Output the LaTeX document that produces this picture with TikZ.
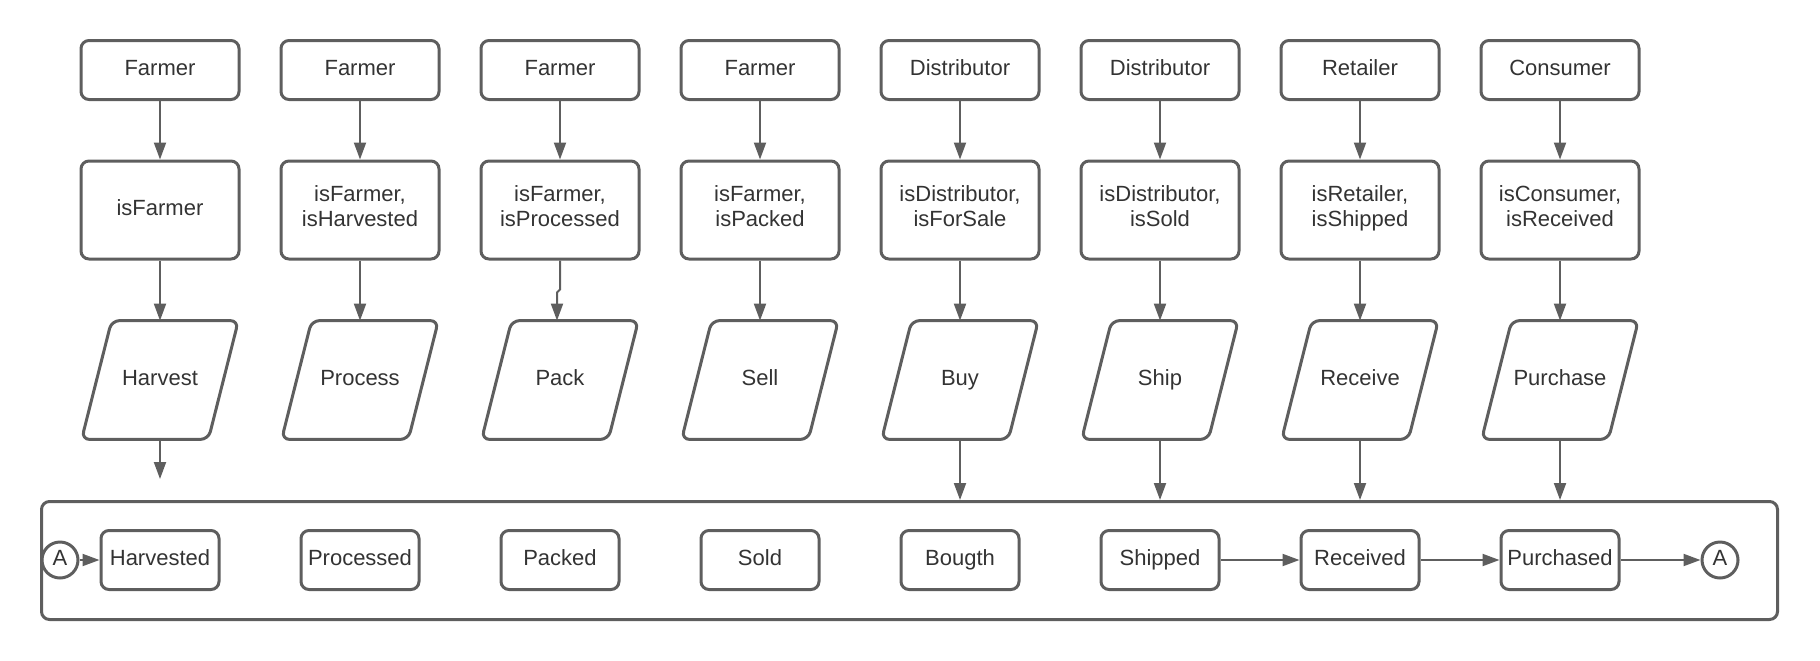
\documentclass[tikz,border=0pt]{standalone}
\usepackage{fontspec}
\setmainfont{Liberation Sans}
\usetikzlibrary{arrows.meta}
\definecolor{ln}{HTML}{5E5E5E}
\definecolor{tx}{HTML}{333333}
\begin{document}
\begin{tikzpicture}[x=0.5pt,y=-0.5pt,
  every node/.style={text=tx, font=\fontsize{11}{12.8}\selectfont, align=center, inner sep=0pt},
  txt/.style={execute at begin node=\strut, execute at end node=\strut},
  topbox/.style={txt, draw=ln, line width=1.5pt, rounded corners=4pt, minimum width=79pt, minimum height=29.5pt},
  midbox/.style={topbox, minimum height=49pt},
  pbox/.style={txt, minimum width=78pt, minimum height=59pt},
  pline/.style={draw=ln, line width=1.5pt, rounded corners=4pt},
  statebox/.style={topbox, minimum width=59pt},
  conn/.style={txt, draw=ln, line width=1.5pt, circle, minimum size=18pt},
  arr/.style={draw=ln, line width=1pt, -{Triangle[length=8.5pt,width=6pt]}},
  frame/.style={draw=ln, line width=1.5pt, rounded corners=4pt, minimum width=868pt, minimum height=59pt}
]
\useasboundingbox (0,0) rectangle (1820,660);

% container
\node[frame] (cont) at (909.5,560.5) {};

% top row
\node[topbox] (t1) at (160,70) {Farmer};
\node[topbox] (t2) at (360,70) {Farmer};
\node[topbox] (t3) at (560,70) {Farmer};
\node[topbox] (t4) at (760,70) {Farmer};
\node[topbox] (t5) at (960,70) {Distributor};
\node[topbox] (t6) at (1160,70) {Distributor};
\node[topbox] (t7) at (1360,70) {Retailer};
\node[topbox] (t8) at (1560,70) {Consumer};

% middle row
\node[midbox] (m1) at (160,210) {isFarmer};
\node[midbox] (m2) at (360,210) {isFarmer,\\isHarvested};
\node[midbox] (m3) at (560,210) {isFarmer,\\isProcessed};
\node[midbox] (m4) at (760,210) {isFarmer,\\isPacked};
\node[midbox] (m5) at (960,210) {isDistributor,\\isForSale};
\node[midbox] (m6) at (1160,210) {isDistributor,\\isSold};
\node[midbox] (m7) at (1360,210) {isRetailer,\\isShipped};
\node[midbox] (m8) at (1560,210) {isConsumer,\\isReceived};

% parallelograms
\node[pbox] (p1) at (160,380) {Harvest};
\node[pbox] (p2) at (360,380) {Process};
\node[pbox] (p3) at (560,380) {Pack};
\node[pbox] (p4) at (760,380) {Sell};
\node[pbox] (p5) at (960,380) {Buy};
\node[pbox] (p6) at (1160,380) {Ship};
\node[pbox] (p7) at (1360,380) {Receive};
\node[pbox] (p8) at (1560,380) {Purchase};
\foreach \n in {p1,p2,p3,p4,p5,p6,p7,p8}{
  \draw[pline] ([xshift=15pt]\n.north west) -- (\n.north east) -- ([xshift=-15pt]\n.south east) -- (\n.south west) -- cycle;
}

% state boxes
\node[statebox] (s1) at (160,560) {Harvested};
\node[statebox] (s2) at (360,560) {Processed};
\node[statebox] (s3) at (560,560) {Packed};
\node[statebox] (s4) at (760,560) {Sold};
\node[statebox] (s5) at (960,560) {Bougth};
\node[statebox] (s6) at (1160,560) {Shipped};
\node[statebox] (s7) at (1360,560) {Received};
\node[statebox] (s8) at (1560,560) {Purchased};

% connectors A
\node[conn] (a1) at (60,560) {A};
\node[conn] (a2) at (1720,560) {A};

% arrows top -> mid
\foreach \i in {1,...,8}{
  \draw[arr] (t\i.south) -- (m\i.north);
}
% arrows mid -> parallelogram
\foreach \i in {1,2,4,5,6,7,8}{
  \draw[arr] (m\i.south) -- (p\i.north);
}
\draw[arr] (m3.south) -- ++(0,29) -- ++(-3,3) -- ([xshift=-1.5pt]p3.north);

% parallelogram -> container
\coordinate (e1) at (160,479);
\draw[arr] (p1.south) -- (e1);
\foreach \i in {5,6,7,8}{
  \draw[arr] (p\i.south) -- (p\i.south |- cont.north);
}

% bottom chain
\draw[arr] (a1) -- (s1);
\draw[arr] (s6) -- (s7);
\draw[arr] (s7) -- (s8);
\draw[arr] (s8) -- (a2);
\end{tikzpicture}
\end{document}
